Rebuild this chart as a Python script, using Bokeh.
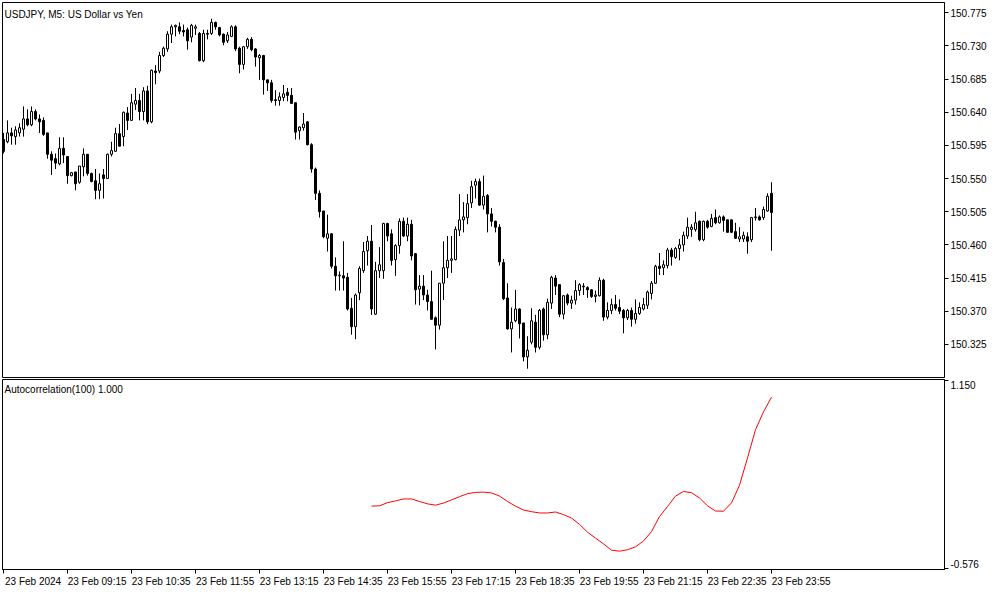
import numpy as np

from bokeh.layouts import column
from bokeh.models import ColumnDataSource, Range1d, FixedTicker, PrintfTickFormatter, Label
from bokeh.plotting import figure
from bokeh.embed import file_html
from bokeh.resources import INLINE

# USDJPY M5, 23 Feb 2024 07:55 .. 23:55 (one entry per bar)
open_ = [
    150.603, 150.600, 150.612, 150.607, 150.612, 150.617, 150.631, 150.623, 150.641, 150.631,
    150.629, 150.612, 150.583, 150.577, 150.570, 150.591, 150.580, 150.554, 150.559, 150.545,
    150.566, 150.583, 150.557, 150.547, 150.534, 150.555, 150.550, 150.583, 150.587, 150.611,
    150.607, 150.639, 150.629, 150.651, 150.656, 150.641, 150.669, 150.627, 150.696, 150.696,
    150.717, 150.726, 150.746, 150.756, 150.756, 150.751, 150.752, 150.742, 150.754, 150.747,
    150.710, 150.747, 150.747, 150.762, 150.755, 150.746, 150.737, 150.743, 150.756, 150.727,
    150.705, 150.729, 150.739, 150.726, 150.714, 150.717, 150.684, 150.680, 150.657, 150.656,
    150.660, 150.667, 150.663, 150.653, 150.615, 150.619, 150.627, 150.596, 150.563, 150.530,
    150.506, 150.469, 150.475, 150.431, 150.418, 150.418, 150.416, 150.374, 150.349, 150.395,
    150.425, 150.452, 150.465, 150.366, 150.425, 150.425, 150.489, 150.475, 150.440, 150.459,
    150.492, 150.472, 150.488, 150.448, 150.400, 150.404, 150.392, 150.383, 150.361, 150.351,
    150.408, 150.429, 150.439, 150.440, 150.480, 150.494, 150.497, 150.517, 150.541, 150.546,
    150.514, 150.527, 150.502, 150.492, 150.484, 150.436, 150.388, 150.346, 150.357, 150.373,
    150.354, 150.308, 150.328, 150.355, 150.321, 150.373, 150.338, 150.381, 150.415, 150.406,
    150.366, 150.392, 150.381, 150.385, 150.398, 150.404, 150.402, 150.399, 150.390, 150.391,
    150.412, 150.362, 150.371, 150.379, 150.375, 150.371, 150.361, 150.371, 150.359, 150.367,
    150.373, 150.378, 150.394, 150.408, 150.431, 150.429, 150.432, 150.453, 150.443, 150.455,
    150.460, 150.472, 150.481, 150.481, 150.492, 150.467, 150.492, 150.485, 150.497, 150.490,
    150.498, 150.494, 150.494, 150.478, 150.468, 150.468, 150.471, 150.467, 150.497, 150.498,
    150.497, 150.506, 150.530,
]
high = [
    150.612, 150.629, 150.619, 150.621, 150.625, 150.648, 150.644, 150.648, 150.644, 150.637,
    150.633, 150.612, 150.587, 150.584, 150.606, 150.606, 150.580, 150.559, 150.559, 150.567,
    150.591, 150.583, 150.558, 150.563, 150.557, 150.563, 150.584, 150.600, 150.619, 150.624,
    150.641, 150.647, 150.665, 150.673, 150.665, 150.674, 150.676, 150.698, 150.704, 150.722,
    150.729, 150.750, 150.759, 150.759, 150.762, 150.759, 150.755, 150.760, 150.759, 150.749,
    150.752, 150.752, 150.767, 150.763, 150.756, 150.747, 150.749, 150.758, 150.758, 150.729,
    150.730, 150.741, 150.742, 150.727, 150.719, 150.718, 150.684, 150.684, 150.670, 150.667,
    150.677, 150.673, 150.673, 150.653, 150.621, 150.639, 150.628, 150.598, 150.565, 150.534,
    150.506, 150.501, 150.476, 150.443, 150.424, 150.465, 150.422, 150.388, 150.394, 150.431,
    150.464, 150.472, 150.487, 150.437, 150.457, 150.490, 150.490, 150.481, 150.461, 150.496,
    150.497, 150.497, 150.494, 150.449, 150.419, 150.419, 150.399, 150.425, 150.363, 150.408,
    150.465, 150.472, 150.472, 150.485, 150.529, 150.518, 150.529, 150.547, 150.550, 150.550,
    150.554, 150.529, 150.510, 150.493, 150.488, 150.441, 150.408, 150.375, 150.399, 150.374,
    150.354, 150.336, 150.374, 150.365, 150.373, 150.375, 150.387, 150.418, 150.419, 150.406,
    150.392, 150.394, 150.391, 150.412, 150.408, 150.408, 150.404, 150.400, 150.398, 150.416,
    150.414, 150.382, 150.387, 150.392, 150.386, 150.373, 150.373, 150.375, 150.386, 150.382,
    150.388, 150.398, 150.411, 150.433, 150.449, 150.439, 150.456, 150.456, 150.457, 150.468,
    150.478, 150.497, 150.488, 150.505, 150.493, 150.493, 150.494, 150.502, 150.508, 150.500,
    150.500, 150.494, 150.494, 150.490, 150.484, 150.478, 150.477, 150.498, 150.510, 150.500,
    150.512, 150.530, 150.545,
]
low = [
    150.584, 150.598, 150.596, 150.596, 150.607, 150.607, 150.621, 150.621, 150.629, 150.612,
    150.608, 150.577, 150.555, 150.563, 150.568, 150.571, 150.543, 150.553, 150.534, 150.543,
    150.553, 150.554, 150.545, 150.522, 150.522, 150.523, 150.550, 150.580, 150.587, 150.594,
    150.594, 150.616, 150.629, 150.643, 150.629, 150.629, 150.624, 150.625, 150.678, 150.693,
    150.715, 150.722, 150.734, 150.743, 150.746, 150.743, 150.725, 150.735, 150.745, 150.709,
    150.708, 150.739, 150.745, 150.752, 150.743, 150.731, 150.734, 150.742, 150.723, 150.693,
    150.698, 150.726, 150.723, 150.702, 150.684, 150.664, 150.669, 150.653, 150.649, 150.649,
    150.655, 150.655, 150.652, 150.603, 150.603, 150.615, 150.595, 150.558, 150.521, 150.497,
    150.469, 150.451, 150.428, 150.398, 150.398, 150.398, 150.371, 150.338, 150.332, 150.385,
    150.422, 150.432, 150.365, 150.365, 150.415, 150.414, 150.465, 150.432, 150.418, 150.448,
    150.471, 150.465, 150.439, 150.379, 150.378, 150.385, 150.371, 150.359, 150.318, 150.345,
    150.385, 150.415, 150.422, 150.439, 150.472, 150.477, 150.488, 150.510, 150.523, 150.513,
    150.508, 150.477, 150.485, 150.477, 150.432, 150.385, 150.345, 150.314, 150.355, 150.333,
    150.302, 150.292, 150.325, 150.314, 150.318, 150.330, 150.332, 150.373, 150.392, 150.362,
    150.359, 150.378, 150.373, 150.379, 150.391, 150.392, 150.388, 150.388, 150.382, 150.390,
    150.357, 150.359, 150.366, 150.371, 150.366, 150.340, 150.358, 150.349, 150.353, 150.365,
    150.371, 150.373, 150.386, 150.407, 150.419, 150.419, 150.428, 150.432, 150.441, 150.439,
    150.451, 150.468, 150.471, 150.478, 150.465, 150.465, 150.482, 150.484, 150.488, 150.489,
    150.478, 150.477, 150.476, 150.468, 150.464, 150.464, 150.448, 150.464, 150.493, 150.493,
    150.494, 150.505, 150.452,
]
close = [
    150.587, 150.612, 150.608, 150.616, 150.619, 150.631, 150.623, 150.641, 150.631, 150.627,
    150.610, 150.583, 150.575, 150.571, 150.591, 150.582, 150.554, 150.558, 150.543, 150.567,
    150.583, 150.557, 150.546, 150.534, 150.543, 150.550, 150.583, 150.588, 150.611, 150.594,
    150.640, 150.629, 150.653, 150.656, 150.641, 150.669, 150.627, 150.697, 150.694, 150.717,
    150.727, 150.746, 150.756, 150.758, 150.750, 150.749, 150.737, 150.758, 150.756, 150.710,
    150.747, 150.746, 150.762, 150.756, 150.745, 150.735, 150.745, 150.756, 150.726, 150.705,
    150.729, 150.739, 150.725, 150.715, 150.717, 150.684, 150.680, 150.656, 150.656, 150.661,
    150.665, 150.663, 150.652, 150.613, 150.620, 150.624, 150.596, 150.563, 150.530, 150.505,
    150.471, 150.475, 150.431, 150.418, 150.419, 150.415, 150.373, 150.349, 150.392, 150.428,
    150.451, 150.465, 150.373, 150.425, 150.433, 150.489, 150.472, 150.439, 150.459, 150.492,
    150.472, 150.488, 150.445, 150.399, 150.404, 150.392, 150.383, 150.359, 150.351, 150.408,
    150.429, 150.439, 150.441, 150.481, 150.494, 150.498, 150.516, 150.539, 150.546, 150.514,
    150.526, 150.502, 150.492, 150.484, 150.437, 150.387, 150.346, 150.355, 150.373, 150.353,
    150.308, 150.317, 150.357, 150.321, 150.371, 150.338, 150.382, 150.416, 150.404, 150.366,
    150.391, 150.381, 150.385, 150.398, 150.406, 150.403, 150.399, 150.390, 150.392, 150.412,
    150.362, 150.371, 150.379, 150.374, 150.370, 150.361, 150.371, 150.359, 150.367, 150.375,
    150.379, 150.396, 150.408, 150.431, 150.428, 150.433, 150.453, 150.444, 150.455, 150.460,
    150.473, 150.484, 150.484, 150.490, 150.467, 150.492, 150.484, 150.496, 150.490, 150.498,
    150.493, 150.477, 150.477, 150.469, 150.471, 150.473, 150.465, 150.497, 150.498, 150.494,
    150.508, 150.526, 150.504,
]

# Autocorrelation(100), read every second bar from bar 92 on
ac_bars = list(range(92, 193, 2))
ac_values = [
    -0.004, -0.001, 0.028, 0.044, 0.062, 0.062, 0.039, 0.017, 0.005, 0.024,
    0.053, 0.083, 0.111, 0.122, 0.125, 0.118, 0.089, 0.039, -0.004, -0.040,
    -0.055, -0.067, -0.067, -0.058, -0.082, -0.114, -0.172, -0.244, -0.298, -0.352,
    -0.410, -0.419, -0.406, -0.379, -0.325, -0.239, -0.100, -0.008, 0.089, 0.131,
    0.120, 0.071, -0.001, -0.049, -0.051, 0.026, 0.188, 0.440, 0.700, 0.865,
    1.000,
]

price_ticks = [150.325, 150.370, 150.415, 150.460, 150.505, 150.550,
               150.595, 150.640, 150.685, 150.730, 150.775]
ac_ticks = [1.150, -0.576]
time_ticks = [0, 16, 32, 48, 64, 80, 96, 112, 128, 144, 160, 176, 192]
time_labels = ["23 Feb 2024", "23 Feb 09:15", "23 Feb 10:35", "23 Feb 11:55",
               "23 Feb 13:15", "23 Feb 14:35", "23 Feb 15:55", "23 Feb 17:15",
               "23 Feb 18:35", "23 Feb 19:55", "23 Feb 21:15", "23 Feb 22:35",
               "23 Feb 23:55"]

FONT = "Liberation Sans"
FSIZE = "10px"

o = np.array(open_)
c = np.array(close)
up = c >= o
source = ColumnDataSource(data=dict(
    x=np.arange(len(o)),
    high=high, low=low,
    top=np.maximum(o, c), bottom=np.minimum(o, c),
    fill=np.where(up, "white", "black"),
))

x_rng = Range1d(-0.25, 235.25)


def style_axis(ax):
    ax.axis_line_color = "black"
    ax.major_tick_line_color = "black"
    ax.minor_tick_line_color = "black"
    ax.major_tick_in = 0
    ax.minor_tick_in = 0
    ax.major_label_text_font = FONT
    ax.major_label_text_font_size = FSIZE
    ax.major_label_text_color = "black"
    ax.major_label_standoff = 2


p = figure(frame_width=942, frame_height=375, x_range=x_rng,
           y_range=Range1d(150.280, 150.789),
           x_axis_type=None, y_axis_location="right",
           tools="", toolbar_location=None, output_backend="svg",
           min_border_left=2, min_border_top=2, min_border_bottom=1, min_border_right=0,
           background_fill_color="white", border_fill_color="white",
           outline_line_color="black")
p.grid.visible = False
p.segment(x0="x", y0="high", x1="x", y1="low", color="black", line_width=1, source=source)
p.vbar(x="x", width=0.5, top="top", bottom="bottom", fill_color="fill",
       line_color="black", line_width=1, source=source)
style_axis(p.yaxis[0])
p.yaxis.ticker = FixedTicker(ticks=price_ticks)
p.yaxis.formatter = PrintfTickFormatter(format="%.3f")
p.yaxis.major_tick_out = 4
p.yaxis.minor_tick_out = 0
p.add_layout(Label(x=-0.25, y=150.789, x_offset=2, y_offset=-6,
                   text="USDJPY, M5:  US Dollar vs Yen", text_baseline="top",
                   text_font=FONT, text_font_size=FSIZE, text_color="black"))

q = figure(frame_width=942, frame_height=190, x_range=x_rng,
           y_range=Range1d(-0.588, 1.163), y_axis_location="right",
           tools="", toolbar_location=None, output_backend="svg",
           min_border_left=2, min_border_top=1, min_border_bottom=0, min_border_right=0,
           background_fill_color="white", border_fill_color="white",
           outline_line_color="black")
q.grid.visible = False
q.line(ac_bars, ac_values, color="#ff0000", line_width=1)

# labels of the indicator scale sit inside the pane, next to their ticks
ac_label_pos = [ac_ticks[0] - 0.041, ac_ticks[1] + 0.041]
style_axis(q.yaxis[0])
q.yaxis.ticker = FixedTicker(ticks=ac_label_pos, minor_ticks=ac_ticks)
q.yaxis.major_label_overrides = {pos: f"{v:.3f}" for pos, v in zip(ac_label_pos, ac_ticks)}
q.yaxis.major_tick_out = 0
q.yaxis.minor_tick_out = 4

# time labels start just right of their tick
label_pos = [t + 7.4 for t in time_ticks]
style_axis(q.xaxis[0])
q.xaxis.ticker = FixedTicker(ticks=label_pos, minor_ticks=time_ticks)
q.xaxis.major_label_overrides = {pos: lbl for pos, lbl in zip(label_pos, time_labels)}
q.xaxis.major_tick_out = 0
q.xaxis.minor_tick_out = 4
q.add_layout(Label(x=-0.25, y=1.163, x_offset=2, y_offset=-4,
                   text="Autocorrelation(100) 1.000", text_baseline="top",
                   text_font=FONT, text_font_size=FSIZE, text_color="black"))

layout = column(p, q, spacing=0)

open("out.html", "w").write(file_html(layout, INLINE))
